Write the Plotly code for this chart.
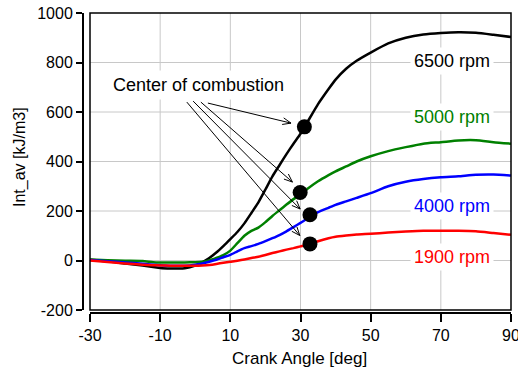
import math
import plotly.graph_objects as go

# ---------------- data ----------------
crank = [-30, -25, -20, -15, -12, -10, -7, -5, -3, 0, 2, 4, 6, 8, 10, 12, 14, 16, 18, 20,
         22, 24, 26, 28, 30, 32, 35, 38, 40, 43, 46, 50, 55, 60, 65, 70, 75, 80, 85, 90]

rpm6500 = [3, -3, -12, -20, -26, -30, -32, -32, -31, -20, -7, 10, 32, 58, 86, 115, 150, 192, 235, 287,
           340, 385, 430, 472, 512, 560, 632, 693, 731, 775, 807, 840, 877, 900, 913, 919, 922, 920, 912, 903]
rpm5000 = [4, 1, -1, -2, -7, -8, -8, -8, -8, -7, -5, 0, 10, 22, 40, 70, 100, 120, 133, 155,
           180, 203, 226, 248, 268, 290, 320, 345, 360, 380, 400, 421, 442, 458, 472, 478, 485, 486, 478, 472]
rpm4000 = [2, -3, -8, -13, -17, -19, -21, -21, -21, -17, -12, -5, 3, 13, 23, 37, 50, 58, 67, 78,
           90, 103, 118, 135, 152, 170, 195, 213, 225, 239, 253, 272, 300, 318, 329, 336, 340, 346, 347, 343]
rpm1900 = [0, -6, -12, -17, -19, -20, -21, -21, -21, -21, -20, -18, -14, -9, -5, -1, 4, 10, 15, 22,
           30, 37, 44, 50, 57, 64, 78, 90, 96, 101, 105, 108, 113, 117, 120, 120, 120, 118, 111, 104]

series_names = ["6500 rpm", "5000 rpm", "4000 rpm", "1900 rpm"]
series_values = [rpm6500, rpm5000, rpm4000, rpm1900]
series_colors = ["#000000", "#008000", "#0000ff", "#ff0000"]

# centre of combustion points
coc_x = [31.1, 29.9, 32.7, 32.7]
coc_y = [540, 275, 185, 67]

# labels (position in data units)
label_x = [73.3, 73.3, 73.3, 73.3]
label_y = [805, 580, 222, 13]

# arrows: tail (near text) -> head (near dot)
arrow_tail_x = [3.6, 1.6, -0.6, -2.4]
arrow_tail_y = [636, 640, 644, 640]
arrow_head_x = [27.3, 27.7, 29.9, 29.8]
arrow_head_y = [555, 317, 208, 101]

coc_text = "Center of combustion"
coc_text_x = 0.8
coc_text_y = 709

x_ticks = [-30, -10, 10, 30, 50, 70, 90]
y_ticks = [-200, 0, 200, 400, 600, 800, 1000]
x_title = "Crank Angle [deg]"
y_title = "Int_av [kJ/m3]"

# ---------------- geometry ----------------
W, H = 518, 367
ML, MR, MT, MB = 83, 5, 11, 54
sx = 421 / 120.0        # px per deg
sy = 297 / 1200.0       # px per unit
xr = [-30 - 7 / sx, 90 + 2 / sx]
yr = [-200 - 3 / sy, 1000 + 2 / sy]

FONT = "Liberation Sans, Arial, sans-serif"

fig = go.Figure()

for name, vals, col in zip(series_names, series_values, series_colors):
    fig.add_trace(go.Scatter(x=crank, y=vals, mode="lines", name=name,
                             line=dict(color=col, width=2.5, shape="spline", smoothing=0.5),
                             showlegend=False))

fig.add_trace(go.Scatter(x=coc_x, y=coc_y, mode="markers",
                         marker=dict(color="black", size=15), showlegend=False))

shapes = []
# grid lines
for xv in x_ticks[1:-1]:
    shapes.append(dict(type="line", xref="x", yref="y", x0=xv, x1=xv, y0=y_ticks[0], y1=y_ticks[-1],
                       line=dict(color="#c8c8c8", width=1), layer="below"))
for yv in y_ticks[1:-1]:
    shapes.append(dict(type="line", xref="x", yref="y", x0=x_ticks[0], x1=x_ticks[-1], y0=yv, y1=yv,
                       line=dict(color="#c8c8c8", width=1), layer="below"))
# frame
shapes.append(dict(type="rect", xref="x", yref="y", x0=x_ticks[0], x1=x_ticks[-1],
                   y0=y_ticks[0], y1=y_ticks[-1], line=dict(color="black", width=1.5), layer="above"))
# offset axis lines
shapes.append(dict(type="line", xref="paper", yref="y", x0=0, x1=0, y0=y_ticks[0], y1=y_ticks[-1],
                   line=dict(color="black", width=2)))
shapes.append(dict(type="line", xref="x", yref="paper", x0=x_ticks[0], x1=x_ticks[-1], y0=0, y1=0,
                   line=dict(color="black", width=2)))

# arrows
head_len, head_ang = 9.0, math.radians(22)
for tx, ty, hx, hy in zip(arrow_tail_x, arrow_tail_y, arrow_head_x, arrow_head_y):
    dxp = (hx - tx) * sx
    dyp = (hy - ty) * sy
    L = math.hypot(dxp, dyp)
    ux, uy = dxp / L, dyp / L
    wings = []
    for s in (1, -1):
        c, sn = math.cos(s * head_ang), math.sin(s * head_ang)
        rx = -(ux * c - uy * sn) * head_len
        ry = -(ux * sn + uy * c) * head_len
        wings.append((hx + rx / sx, hy + ry / sy))
    path = (f"M{tx},{ty} L{hx},{hy} M{wings[0][0]},{wings[0][1]} L{hx},{hy} "
            f"L{wings[1][0]},{wings[1][1]}")
    shapes.append(dict(type="path", xref="x", yref="y", path=path,
                       line=dict(color="black", width=1)))

annotations = []
annotations.append(dict(x=coc_text_x, y=coc_text_y, xref="x", yref="y", text=coc_text,
                        showarrow=False, font=dict(family=FONT, size=18, color="black"),
                        bgcolor="white", borderpad=4))
for name, lx, ly, col in zip(series_names, label_x, label_y, series_colors):
    annotations.append(dict(x=lx, y=ly, xref="x", yref="y", text=name, showarrow=False,
                            font=dict(family=FONT, size=18, color=col),
                            bgcolor="white", borderpad=3))
annotations.append(dict(x=(299 - ML) / (W - ML - MR), y=0, xref="paper", yref="paper",
                        yshift=-45, text=x_title, showarrow=False, yanchor="middle",
                        font=dict(family=FONT, size=17, color="black")))
annotations.append(dict(x=0, y=(H - MB - 157) / (H - MB - MT), xref="paper", yref="paper",
                        xshift=-63, text=y_title, showarrow=False, textangle=-90,
                        xanchor="center", yanchor="middle",
                        font=dict(family=FONT, size=16, color="black")))

fig.update_layout(
    width=W, height=H,
    margin=dict(l=ML, r=MR, t=MT, b=MB, pad=0),
    paper_bgcolor="white", plot_bgcolor="white",
    font=dict(family=FONT, size=16, color="black"),
    shapes=shapes, annotations=annotations, showlegend=False,
)
fig.update_xaxes(range=xr, tickvals=x_ticks, ticktext=[str(v) for v in x_ticks],
                 ticks="outside", ticklen=8, tickwidth=1.5, tickcolor="black",
                 showgrid=False, zeroline=False, showline=False, automargin=False,
                 ticklabeloverflow="allow",
                 tickfont=dict(family=FONT, size=16, color="black"))
fig.update_yaxes(range=yr, tickvals=y_ticks, ticktext=[str(v) for v in y_ticks],
                 ticks="outside", ticklen=6, tickwidth=1.5, tickcolor="black",
                 showgrid=False, zeroline=False, showline=False, automargin=False,
                 ticklabeloverflow="allow",
                 tickfont=dict(family=FONT, size=16, color="black"))

fig.write_html("out.html")
